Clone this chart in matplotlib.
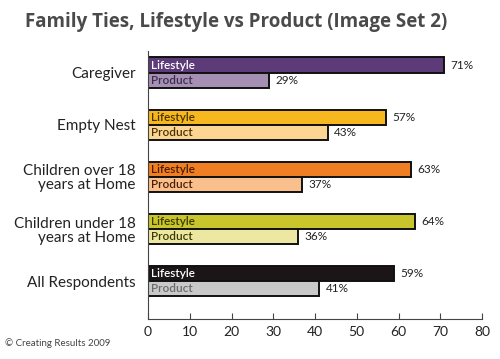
import matplotlib.pyplot as plt

categories = ["Caregiver", "Empty Nest", "Children over 18\nyears at Home",
              "Children under 18\nyears at Home", "All Respondents"]
lifestyle = [71, 57, 63, 64, 59]
product = [29, 43, 37, 36, 41]

life_colors = ["#5d3b78", "#f6b81e", "#f07e22", "#c9c52c", "#1b1517"]
prod_colors = ["#a590b4", "#fcd592", "#f9c08e", "#ece8a2", "#c9c9c9"]
life_text = ["white", "#4a3200", "#4a1e00", "#3a3a00", "white"]
prod_text = ["#3e2c4c", "#4a3200", "#4a1e00", "#3a3a00", "#6a6a6a"]

plt.rcParams["font.family"] = ["Lato", "DejaVu Sans"]

fig = plt.figure(figsize=(5, 3.59), dpi=100)
ax = fig.add_axes([0.296, 0.111, 0.668, 0.747])

h = 0.29
for i in range(len(categories)):
    ax.barh(i - 0.15, lifestyle[i], height=h, color=life_colors[i],
            edgecolor="#111111", linewidth=1.4)
    ax.barh(i + 0.15, product[i], height=h, color=prod_colors[i],
            edgecolor="#111111", linewidth=1.4)
    ax.text(0.8, i - 0.15, "Lifestyle", color=life_text[i], fontsize=8.5,
            fontweight="semibold", va="center", ha="left")
    ax.text(0.8, i + 0.15, "Product", color=prod_text[i], fontsize=8.5,
            fontweight="semibold", va="center", ha="left")
    ax.text(lifestyle[i] + 1.5, i - 0.15, f"{lifestyle[i]}%", fontsize=8.5,
            color="#222222", va="center", ha="left")
    ax.text(product[i] + 1.5, i + 0.15, f"{product[i]}%", fontsize=8.5,
            color="#222222", va="center", ha="left")

ax.set_xlim(0, 80)
ax.set_ylim(4.73, -0.42)
ax.set_xticks(range(0, 81, 10))
ax.set_yticks(range(len(categories)))
ax.set_yticklabels(categories, fontsize=11, color="#222222", linespacing=1.0)
ax.tick_params(axis="y", length=0, pad=9)
ax.tick_params(axis="x", direction="in", length=4, color="#444444",
               labelsize=10, labelcolor="#222222", pad=5)
for side in ["top", "right"]:
    ax.spines[side].set_visible(False)
ax.spines["left"].set_color("#444444")
ax.spines["bottom"].set_color("#444444")

fig.text(0.05, 0.938, "Family Ties, Lifestyle vs Product (Image Set 2)",
         fontsize=13.5, fontweight="bold", color="#4a4a4a", va="center",
         family=["Open Sans", "DejaVu Sans"])
fig.text(0.01, 0.045, "\u00a9 Creating Results 2009", fontsize=7,
         color="#444444", va="center")

fig.savefig("out.png")
